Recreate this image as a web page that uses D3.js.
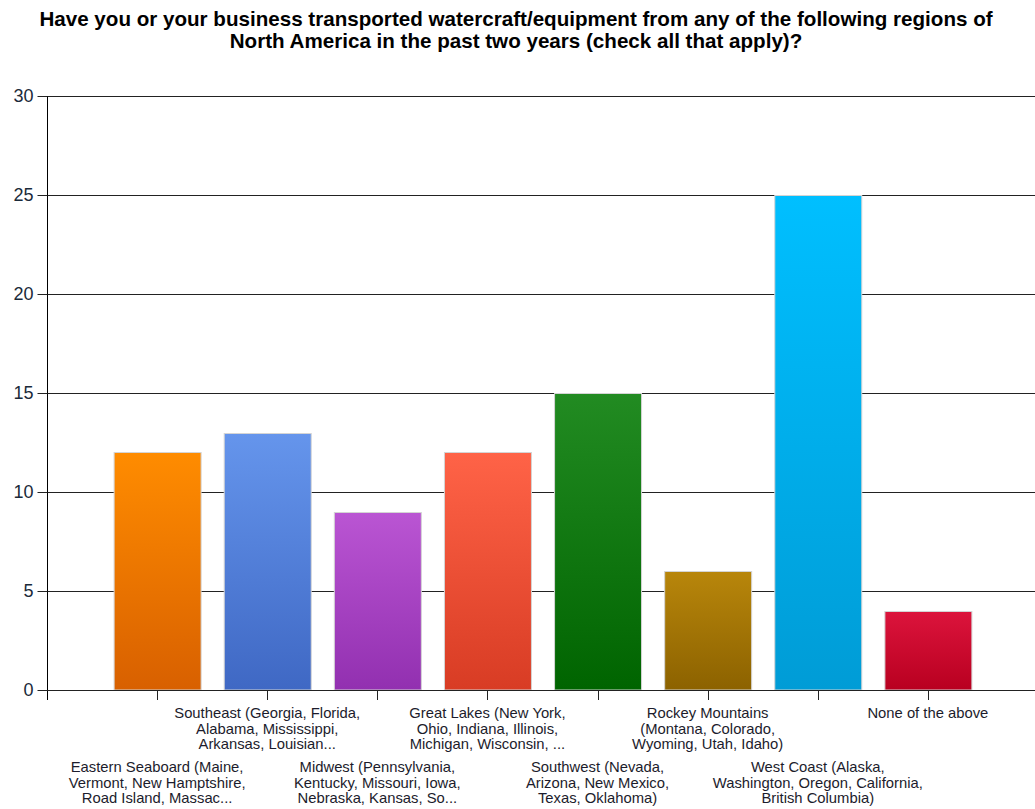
<!DOCTYPE html>
<html>
<head>
<meta charset="utf-8">
<script src="https://cdn.jsdelivr.net/npm/d3@7"></script>
<style>
  html, body { margin: 0; padding: 0; background: #fff; }
  svg { display: block; }
</style>
</head>
<body>
<svg id="chart" width="1035" height="809"></svg>
<script>
// Survey responses per region
const categories = [
  "Eastern Seaboard (Maine, Vermont, New Hamptshire, Road Island, Massac...",
  "Southeast (Georgia, Florida, Alabama, Mississippi, Arkansas, Louisian...",
  "Midwest (Pennsylvania, Kentucky, Missouri, Iowa, Nebraska, Kansas, So...",
  "Great Lakes (New York, Ohio, Indiana, Illinois, Michigan, Wisconsin, ...",
  "Southwest (Nevada, Arizona, New Mexico, Texas, Oklahoma)",
  "Rockey Mountains (Montana, Colorado, Wyoming, Utah, Idaho)",
  "West Coast (Alaska, Washington, Oregon, California, British Columbia)",
  "None of the above"
];
// Wrapped label lines for each category
const labelLines = [
  ["Eastern Seaboard (Maine,", "Vermont, New Hamptshire,", "Road Island, Massac..."],
  ["Southeast (Georgia, Florida,", "Alabama, Mississippi,", "Arkansas, Louisian..."],
  ["Midwest (Pennsylvania,", "Kentucky, Missouri, Iowa,", "Nebraska, Kansas, So..."],
  ["Great Lakes (New York,", "Ohio, Indiana, Illinois,", "Michigan, Wisconsin, ..."],
  ["Southwest (Nevada,", "Arizona, New Mexico,", "Texas, Oklahoma)"],
  ["Rockey Mountains", "(Montana, Colorado,", "Wyoming, Utah, Idaho)"],
  ["West Coast (Alaska,", "Washington, Oregon, California,", "British Columbia)"],
  ["None of the above"]
];
const values = [12, 13, 9, 12, 15, 6, 25, 4];
const yTicks = [0, 5, 10, 15, 20, 25, 30];
// Gradient stops (top, bottom) per bar
const topColors = ["#ff8c00", "#6595ec", "#ba55d3", "#ff6347", "#228b22", "#b8860b", "#00bfff", "#dc143c"];
const bottomColors = ["#d86000", "#3f68c4", "#9230b0", "#d83c24", "#006400", "#8c6200", "#009cd6", "#b80020"];

const title = [
  "Have you or your business transported watercraft/equipment from any of the following regions of",
  "North America in the past two years (check all that apply)?"
];

const svg = d3.select("#chart");
const plot = { left: 47, right: 1035, top: 96, bottom: 690 };

// Title
svg.append("g").selectAll("text").data(title).join("text")
  .attr("x", 516).attr("y", (d, i) => 25.5 + i * 22)
  .attr("text-anchor", "middle")
  .attr("font-family", "Liberation Sans, Arial, sans-serif")
  .attr("font-weight", "bold").attr("font-size", 20.6)
  .attr("fill", "#000")
  .text(d => d);

// Category slots continue slightly past the visible right edge
const x = d3.scaleBand().domain(categories)
  .range([plot.left, plot.right + 3])
  .paddingInner(0.21).paddingOuter(0.605).align(0.5);
const y = d3.scaleLinear().domain([0, 30]).range([plot.bottom, plot.top]);

// Gradients
const defs = svg.append("defs");
categories.forEach((c, i) => {
  const g = defs.append("linearGradient").attr("id", "grad" + i)
    .attr("x1", 0).attr("y1", 0).attr("x2", 0).attr("y2", 1);
  g.append("stop").attr("offset", "0%").attr("stop-color", topColors[i]);
  g.append("stop").attr("offset", "100%").attr("stop-color", bottomColors[i]);
});

// Horizontal gridlines
svg.append("g").selectAll("line").data(yTicks.filter(t => t > 0)).join("line")
  .attr("x1", plot.left).attr("x2", plot.right)
  .attr("y1", d => Math.round(y(d)) + 0.5).attr("y2", d => Math.round(y(d)) + 0.5)
  .attr("stroke", "#222").attr("stroke-width", 1);

// Y axis
const yAxis = svg.append("g")
  .attr("transform", `translate(${plot.left + 0.5},0)`)
  .call(d3.axisLeft(y).tickValues(yTicks).tickSize(10).tickPadding(4));
yAxis.select(".domain").attr("stroke", "#000").attr("d", `M0,${plot.top}V${plot.bottom + 10}`);
yAxis.selectAll(".tick line").attr("stroke", "#222");
yAxis.selectAll(".tick text")
  .attr("font-family", "Liberation Sans, Arial, sans-serif")
  .attr("font-size", 18).attr("fill", "#1a2a3a");

// Bars
svg.append("g").selectAll("rect").data(values).join("rect")
  .attr("x", (d, i) => x(categories[i]) + 0.5)
  .attr("y", d => Math.round(y(d)) + 0.5)
  .attr("width", x.bandwidth())
  .attr("height", d => plot.bottom - Math.round(y(d)) - 0.5)
  .attr("fill", (d, i) => `url(#grad${i})`)
  .attr("stroke", "#d4d4d4").attr("stroke-width", 1);

// X axis line and ticks at bar centers
const xAxis = svg.append("g");
xAxis.append("line")
  .attr("x1", plot.left).attr("x2", plot.right)
  .attr("y1", plot.bottom + 0.5).attr("y2", plot.bottom + 0.5)
  .attr("stroke", "#222");
xAxis.selectAll("line.tick").data(categories).join("line")
  .attr("class", "tick")
  .attr("x1", d => Math.round(x(d) + x.bandwidth() / 2) + 0.5)
  .attr("x2", d => Math.round(x(d) + x.bandwidth() / 2) + 0.5)
  .attr("y1", plot.bottom).attr("y2", plot.bottom + 10)
  .attr("stroke", "#222");

// Category labels, staggered in two rows
const labels = svg.append("g");
categories.forEach((c, i) => {
  const cx = x(c) + x.bandwidth() / 2;
  const y0 = i % 2 === 1 ? 718 : 772;
  const t = labels.append("text")
    .attr("text-anchor", "middle")
    .attr("font-family", "Liberation Sans, Arial, sans-serif")
    .attr("font-size", 14.8).attr("fill", "#1c1c2c");
  labelLines[i].forEach((line, j) => {
    t.append("tspan").attr("x", cx).attr("y", y0 + j * 15.5).text(line);
  });
});
</script>
</body>
</html>
